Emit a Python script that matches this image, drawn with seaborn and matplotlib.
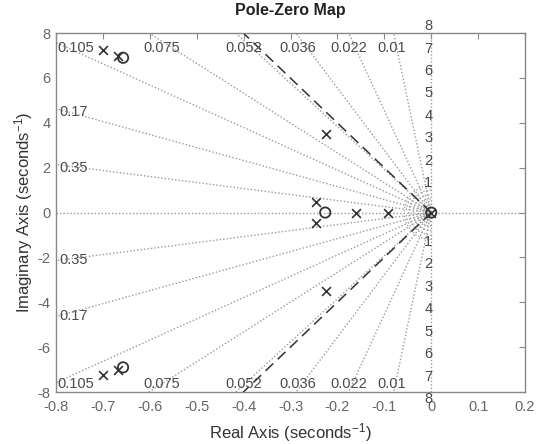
import numpy as np
import pandas as pd
import seaborn as sns
from matplotlib import pyplot as plt

# poles (x) and zeros (o)
pole_re = [-0.700, -0.668, -0.225, -0.246, -0.246, -0.160, -0.093, 0.0, -0.225, -0.668, -0.700]
pole_im = [7.26, 7.00, 3.50, 0.45, -0.45, 0.0, 0.0, 0.0, -3.50, -7.00, -7.26]
zero_re = [-0.657, -0.226, 0.0, -0.657]
zero_im = [6.90, 0.0, 0.0, -6.90]

# damping grid (sgrid style)
zetas = [0.01, 0.022, 0.036, 0.052, 0.075, 0.105, 0.17, 0.35]
zeta_top = ['0.105', '0.075', '0.052', '0.036', '0.022', '0.01']
zeta_top_x = [-0.758, -0.575, -0.400, -0.285, -0.175, -0.085]
zeta_left = ['0.17', '0.35']
zeta_left_y = [4.5, 2.0]
wn_labels = [1, 2, 3, 4, 5, 6, 7, 8]
arc_radii = [0.2, 0.4, 0.6, 0.8, 1.0, 1.2]

# dashed constraint line (zeta = 0.05)
dash_zeta = 0.05

GRID = '#9a9a9a'
TXT = '#4a4a4a'
MARK = '#333333'

sns.set_style('white')
plt.rcParams['font.family'] = ['Liberation Sans', 'DejaVu Sans']
plt.rcParams['mathtext.default'] = 'regular'

fig = plt.figure(figsize=(5.36, 4.44), dpi=100)
ax = fig.add_axes([0.1045, 0.117, 0.875, 0.8085])

# damping rays, clipped by the axes
for z in zetas:
    for s in (1, -1):
        r = np.array([0.0, 20.0])
        df = pd.DataFrame({'re': -z * r, 'im': s * np.sqrt(1 - z**2) * r})
        sns.lineplot(data=df, x='re', y='im', sort=False, estimator=None, ax=ax,
                     color=GRID, linestyle=(0, (1, 1.5)), linewidth=1.0)

# real and imaginary axis lines
ax.plot([-0.8, 0.2], [0, 0], color=GRID, linestyle=(0, (1, 1.5)), linewidth=1.0)
ax.plot([0, 0], [-8, 8], color=GRID, linestyle=(0, (1, 1.5)), linewidth=1.0)

# small frequency arcs near the origin
asp = (1.0 / 469) / (16.0 / 359)
t = np.linspace(-np.pi / 2, np.pi / 2, 60)
for rr in arc_radii:
    ax.plot(-rr * asp * np.cos(t), rr * np.sin(t), color=GRID,
            linestyle=(0, (1, 1.5)), linewidth=0.9)

# dashed line
for s in (1, -1):
    r = np.array([0.0, 20.0])
    ax.plot(-dash_zeta * r, s * np.sqrt(1 - dash_zeta**2) * r, color=MARK,
            linestyle=(0, (7, 4)), linewidth=1.1)

poles = pd.DataFrame({'re': pole_re, 'im': pole_im})
zeros = pd.DataFrame({'re': zero_re, 'im': zero_im})
sns.scatterplot(data=poles, x='re', y='im', marker='x', s=40, color=MARK,
                linewidth=1.2, ax=ax, zorder=5)
sns.scatterplot(data=zeros, x='re', y='im', marker='o', s=55, facecolors='none',
                edgecolor=MARK, linewidth=1.3, ax=ax, zorder=5)

# grid labels
for lab, x in zip(zeta_top, zeta_top_x):
    ax.text(x, 7.35, lab, ha='center', va='center', fontsize=10.5, color=TXT)
    ax.text(x, -7.62, lab, ha='center', va='center', fontsize=10.5, color=TXT)
for lab, y in zip(zeta_left, zeta_left_y):
    ax.text(-0.792, y, lab, ha='left', va='center', fontsize=10.5, color=TXT)
    ax.text(-0.792, -y - 0.1, lab, ha='left', va='center', fontsize=10.5, color=TXT)
for k in wn_labels:
    ax.text(-0.006, k, str(k), ha='center', va='bottom', fontsize=10.5, color=TXT, clip_on=False)
    ax.text(-0.006, -k, str(k), ha='center', va='top', fontsize=10.5, color=TXT, clip_on=False)

ax.set_xlim(-0.8, 0.2)
ax.set_ylim(-8, 8)
ax.set_xticks(np.arange(-0.8, 0.21, 0.1))
ax.set_xticklabels(['-0.8', '-0.7', '-0.6', '-0.5', '-0.4', '-0.3', '-0.2', '-0.1', '0', '0.1', '0.2'])
ax.set_yticks(np.arange(-8, 9, 2))
ax.set_yticklabels([str(v) for v in range(-8, 9, 2)])
ax.tick_params(direction='in', length=4, width=0.8, top=True, right=True,
               colors='#888888', labelcolor='#666666', labelsize=10.5, pad=4)
ax.tick_params(axis='x', pad=6)
for sp in ax.spines.values():
    sp.set_color('#888888')
    sp.set_linewidth(1.0)

ax.set_xlabel(r'Real Axis (seconds$^{-1}$)', fontsize=12, color='#333333', labelpad=5)
ax.set_ylabel(r'Imaginary Axis (seconds$^{-1}$)', fontsize=12, color='#333333', labelpad=2)
ax.set_title('Pole-Zero Map', fontsize=11.5, fontweight='bold', color='#222222', pad=13)

fig.savefig('out.png', dpi=100)
